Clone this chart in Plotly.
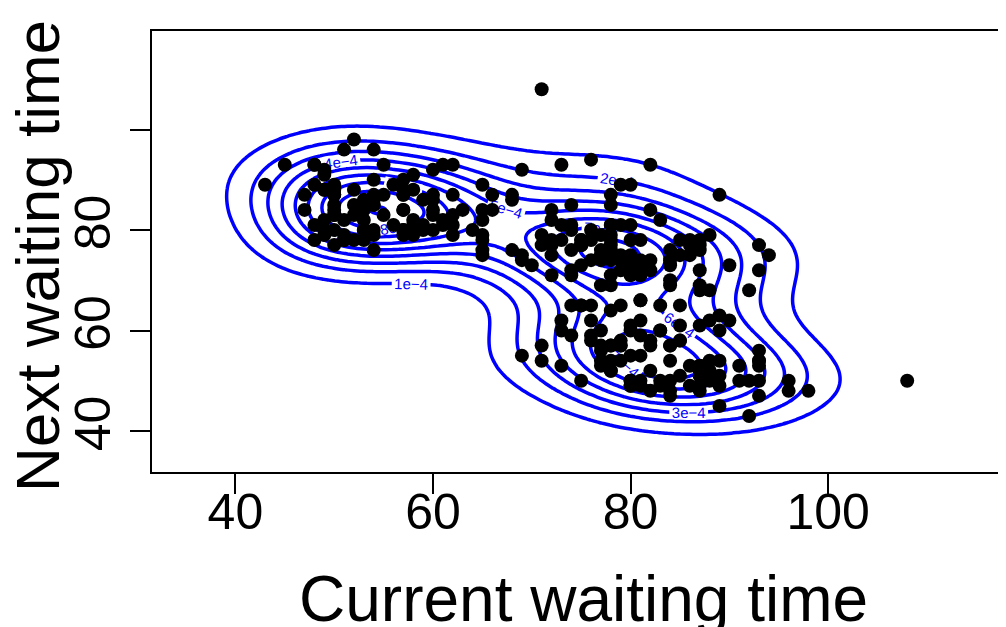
import numpy as np
import plotly.graph_objects as go

# successive waiting times (minutes)
waiting = [80, 71, 57, 80, 75, 77, 60, 86, 77, 56, 81, 50, 89, 54, 90, 73, 60, 83, 65, 82,
           84, 54, 85, 58, 79, 57, 88, 68, 76, 78, 74, 85, 75, 65, 76, 58, 91, 50, 87, 48,
           93, 54, 86, 53, 78, 52, 83, 60, 87, 49, 80, 60, 92, 43, 89, 60, 84, 69, 74, 71,
           108, 50, 77, 57, 80, 61, 82, 48, 81, 73, 62, 79, 54, 80, 73, 81, 62, 81, 71, 79,
           81, 74, 59, 81, 66, 87, 53, 80, 50, 87, 51, 82, 58, 81, 49, 92, 50, 88, 62, 93,
           56, 89, 51, 79, 58, 82, 52, 88, 52, 78, 69, 75, 77, 53, 80, 55, 87, 53, 85, 61,
           93, 54, 76, 80, 81, 59, 86, 78, 71, 77, 76, 94, 75, 50, 83, 82, 72, 77, 75, 65,
           79, 72, 78, 77, 79, 75, 78, 64, 80, 49, 88, 54, 85, 51, 96, 50, 80, 78, 81, 72,
           75, 78, 87, 69, 55, 83, 49, 82, 57, 84, 57, 84, 73, 78, 57, 79, 57, 90, 62, 87,
           78, 52, 98, 48, 78, 79, 65, 84, 50, 83, 60, 80, 50, 88, 50, 84, 74, 76, 65, 89,
           49, 88, 51, 78, 85, 65, 75, 77, 69, 92, 68, 87, 61, 81, 55, 93, 53, 84, 70, 73,
           93, 50, 87, 77, 74, 72, 82, 74, 80, 49, 91, 53, 86, 49, 79, 89, 87, 76, 59, 80,
           89, 45, 93, 72, 71, 54, 79, 74, 65, 78, 57, 87, 72, 84, 47, 84, 57, 87, 68, 86,
           75, 73, 53, 82, 93, 77, 54, 96, 48, 89, 63, 84, 76, 62, 83, 50, 85, 78, 78, 81,
           78, 76, 74, 81, 66, 84, 48, 93, 47, 87, 51, 78, 54, 87, 52, 85, 58, 88, 79]
current_wait = waiting[:-1]
next_wait = waiting[1:]

x_ticks = [40, 60, 80, 100]
y_ticks = [40, 60, 80, 100]
y_tick_text = ["40", "60", "80", ""]
grid_lims = (30, 120, 30, 120)
kernel_sd = 5.5


def kde2d(x, y, sd, n=140, lims=grid_lims):
    x = np.asarray(x, float)
    y = np.asarray(y, float)
    gx = np.linspace(lims[0], lims[1], n)
    gy = np.linspace(lims[2], lims[3], n)
    ax = (gx[:, None] - x[None, :]) / sd
    ay = (gy[:, None] - y[None, :]) / sd
    phi = lambda u: np.exp(-0.5 * u * u) / np.sqrt(2 * np.pi)
    z = phi(ax) @ phi(ay).T / (len(x) * sd * sd)
    return gx, gy, z


gx, gy, z = kde2d(current_wait, next_wait, kernel_sd)

FONT = "Liberation Sans, Arial, sans-serif"

fig = go.Figure()
fig.add_trace(go.Contour(
    x=gx, y=gy, z=z.T,
    autocontour=False,
    contours=dict(start=1e-4, end=float(z.max()), size=1e-4, coloring="lines",
                  showlabels=True,
                  labelfont=dict(size=15, color="#0000FF", family=FONT),
                  labelformat=".0e"),
    colorscale=[[0, "#0000FF"], [1, "#0000FF"]],
    showscale=False,
    line=dict(width=3.5),
    hoverinfo="skip",
))
fig.add_trace(go.Scatter(
    x=current_wait, y=next_wait, mode="markers",
    marker=dict(size=14, color="black"),
    showlegend=False,
))

# the page body adds an 8px offset, so the figure is 8px smaller than the window
W, H, OFF = 1006, 627, 8
plot_l, plot_t, plot_b = 152, 31, 472
tick_font = dict(family=FONT, size=50, color="black")
fig.update_layout(
    width=W - OFF, height=H - OFF,
    margin=dict(l=plot_l - OFF, r=0, t=plot_t - OFF, b=H - plot_b, autoexpand=False),
    paper_bgcolor="white", plot_bgcolor="white",
    showlegend=False,
    font=dict(family=FONT, color="black"),
    xaxis=dict(range=[31.56, 118.0], tickvals=x_ticks, ticks="outside", ticklen=20,
               tickwidth=1.5, tickcolor="black", showline=True, linecolor="black",
               linewidth=2, mirror=True, showgrid=False, zeroline=False,
               tickfont=tick_font, automargin=False, ticklabelstandoff=-25),
    yaxis=dict(range=[31.85, 119.6], tickvals=y_ticks, ticktext=y_tick_text,
               ticks="outside", ticklen=20, tickwidth=1.5, tickcolor="black",
               showline=True, linecolor="black", linewidth=2, mirror=False,
               showgrid=False, zeroline=False, tickangle=-90, tickfont=tick_font,
               automargin=False, ticklabelstandoff=0),
    annotations=[
        dict(text="Current waiting time", xref="paper", yref="paper",
             x=(583 - 152) / 854, y=-(599 - 472) / 441, xanchor="center", yanchor="middle",
             showarrow=False, font=dict(size=64, color="black", family=FONT)),
        dict(text="Next waiting time", xref="paper", yref="paper",
             x=-(152 - 37) / 854, y=(472 - 256) / 441, xanchor="center", yanchor="middle",
             textangle=-90, showarrow=False,
             font=dict(size=62, color="black", family=FONT)),
    ],
)

fig.write_html("out.html")
